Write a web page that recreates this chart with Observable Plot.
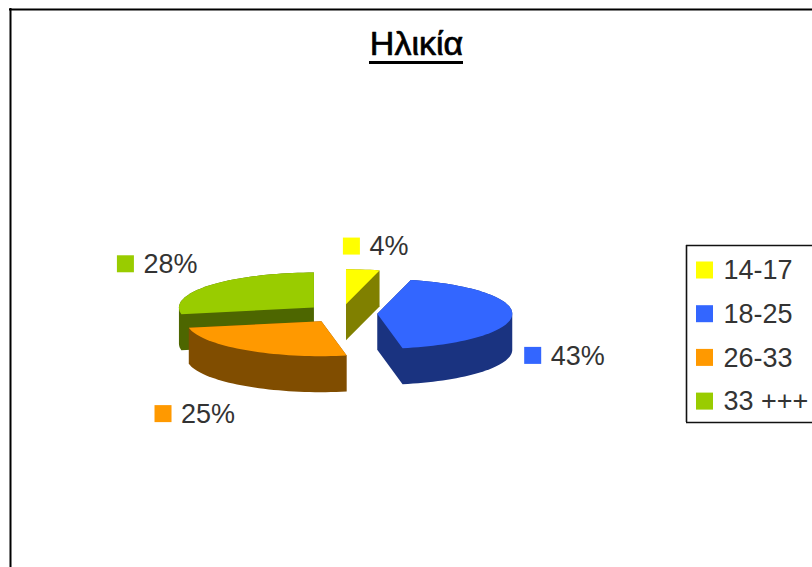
<!DOCTYPE html>
<html lang="el">
<head>
<meta charset="utf-8">
<title>Ηλικία</title>
<script src="https://cdn.jsdelivr.net/npm/d3@7"></script>
<script src="https://cdn.jsdelivr.net/npm/@observablehq/plot@0.6"></script>
<style>
  html, body { margin: 0; padding: 0; background: #fff; overflow: hidden; }
  svg { display: block; }
</style>
</head>
<body>
<div id="chart"></div>
<script>
// Age groups and their share of respondents, in percent.
const ages = ["14-17", "18-25", "26-33", "33 +++"];
const shares = [4, 43, 25, 28];
const topColors = ["#FFFF00", "#3366FF", "#FF9900", "#99CC00"];
const sideColors = ["#808000", "#1A3380", "#804D00", "#4D6600"];

// Tilted-disc layout of the exploded pie, in pixels.
const W = 812, H = 567;
const pie = {cx: 341, cy: 313, rx: 135, ry: 35, depth: 36, explode: 0.265};
// Offset of each percentage tag's swatch centre from the rim at the slice's mid-angle.
const tagNudge = [[-11, -23], [21, 41], [-82, 64], [-84, -21]];
// Slices are painted back to front: far-left first, the right-hand ones last.
const paintOrder = [3, 2, 0, 1];
const font = "Liberation Sans, Arial, sans-serif";
const legend = {x: 686, top: 245, bottom: 422, swatchX: 696, textX: 723, firstY: 270, stepY: 43.7};
const swatch = 17;

const total = d3.sum(shares);
const project = (a, r = 1) => [r * pie.rx * Math.sin(a), -r * pie.ry * Math.cos(a)];

// Angular extent, exploded apex and outline of each slice, clockwise from twelve o'clock.
let running = 0;
const slices = shares.map((share, i) => {
  const a0 = (running / total) * 2 * Math.PI;
  running += share;
  const a1 = (running / total) * 2 * Math.PI;
  const mid = (a0 + a1) / 2;
  const [ox, oy] = project(mid, pie.explode);
  const apex = [pie.cx + ox, pie.cy + oy];
  const steps = Math.max(2, Math.ceil((a1 - a0) / 0.04));
  const rim = d3.range(steps + 1).map((k) => {
    const [x, y] = project(a0 + ((a1 - a0) * k) / steps);
    return [apex[0] + x, apex[1] + y];
  });
  const [mx, my] = project(mid);
  return {i, mid, apex, rim, tag: [apex[0] + mx + tagNudge[i][0], apex[1] + my + tagNudge[i][1]]};
});

// Polygon vertices for each slice. Every slice is under 180 degrees and so convex:
// the hull of its top face and the same face dropped by the depth is its solid outline.
const polygons = [];
const addPolygon = (id, fill, pts) => pts.forEach(([x, y]) => polygons.push({id, fill, x, y}));
const drop = ([x, y]) => [x, y + pie.depth];
for (const i of paintOrder) {
  const s = slices[i];
  const face = [s.apex, ...s.rim];
  addPolygon(`solid-${i}`, sideColors[i], d3.polygonHull([...face, ...face.map(drop)]));
  addPolygon(`top-${i}`, topColors[i], face);
}

const tagSwatches = slices.map((s) => ({
  x1: s.tag[0] - swatch / 2, x2: s.tag[0] + swatch / 2,
  y1: s.tag[1] - swatch / 2, y2: s.tag[1] + swatch / 2,
  fill: topColors[s.i]
}));
const tagTexts = slices.map((s) => ({x: s.tag[0] + swatch / 2 + 9, y: s.tag[1], text: `${shares[s.i]}%`}));

const legendRows = ages.map((age, i) => ({age, fill: topColors[i], y: legend.firstY + i * legend.stepY}));

const plot = Plot.plot({
  width: W,
  height: H,
  margin: 0,
  style: {background: "#fff", fontFamily: font},
  x: {domain: [0, W], range: [0, W], axis: null},
  y: {domain: [0, H], range: [0, H], axis: null},
  color: {type: "identity"},
  marks: [
    // Chart border, left and top; the other two sides run off the page.
    Plot.ruleY([9], {x1: 9, x2: W, stroke: "#000", strokeWidth: 2}),
    Plot.ruleX([10], {y1: 8, y2: H, stroke: "#000", strokeWidth: 2}),

    // Title with its underline.
    Plot.text(["Ηλικία"], {
      x: 416, y: 44, text: (d) => d, textAnchor: "middle",
      fontSize: 34, fontWeight: 400, fill: "#000", stroke: "#000", strokeWidth: 0.7
    }),
    Plot.ruleY([62], {x1: 369, x2: 463, stroke: "#000", strokeWidth: 3}),

    // Exploded pie.
    Plot.line(polygons, {
      x: "x", y: "y", z: "id", fill: "fill", stroke: "none", curve: "linear"
    }),

    // Percentage tags.
    Plot.rect(tagSwatches, {x1: "x1", x2: "x2", y1: "y1", y2: "y2", fill: "fill"}),
    Plot.text(tagTexts, {
      x: "x", y: "y", text: "text", textAnchor: "start", fontSize: 27, fill: "#333"
    }),

    // Legend box, open at the page edge.
    Plot.ruleY([legend.top, legend.bottom], {x1: legend.x, x2: W, stroke: "#111", strokeWidth: 1.6}),
    Plot.ruleX([legend.x], {y1: legend.top, y2: legend.bottom, stroke: "#111", strokeWidth: 1.6}),
    Plot.rect(legendRows, {
      x1: legend.swatchX, x2: legend.swatchX + swatch,
      y1: (d) => d.y - swatch / 2, y2: (d) => d.y + swatch / 2, fill: "fill"
    }),
    Plot.text(legendRows, {
      x: legend.textX, y: "y", text: "age", textAnchor: "start", fontSize: 27, fill: "#333"
    })
  ]
});
document.getElementById("chart").append(plot);
</script>
</body>
</html>
